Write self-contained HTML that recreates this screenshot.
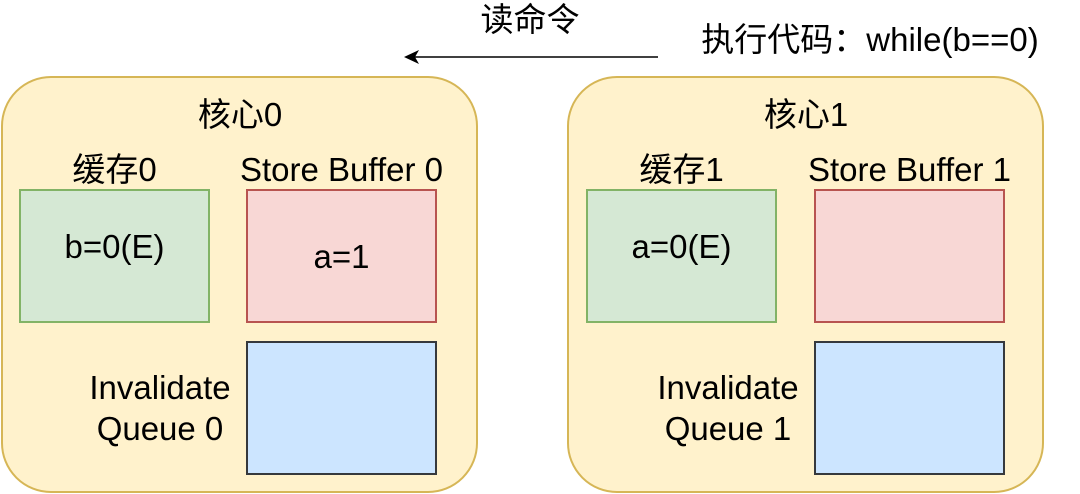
<!DOCTYPE html>
<html><head><meta charset="utf-8"><style>
body{margin:0;background:#fff;width:1080px;height:494px;position:relative;overflow:hidden;font-family:"Liberation Sans","Noto Sans CJK SC",sans-serif;color:#000}
div{position:absolute;box-sizing:border-box}
.core{background:#fff2cc;border:2px solid #d6b656;border-radius:50px;top:76px;width:477px;height:417px}
.g{background:#d5e8d4;border:2px solid #82b366;width:191px;height:134px;top:189px}
.r{background:#f8d7d5;border:2px solid #b85450;width:191px;height:134px;top:189px}
.b{background:#cce5ff;border:2px solid #36393d;width:191px;height:134px;top:341px}
.t{font-size:33px;white-space:nowrap;text-align:center;line-height:36px}
</style></head><body>
<div class="t" style="left:440px;top:2px;width:180px">读命令</div>
<div class="t" style="left:670px;top:22px;width:400px">执行代码：while(b==0)</div>
<svg style="position:absolute;left:0;top:0" width="1080" height="494"><line x1="658" y1="57" x2="412" y2="57" stroke="#000" stroke-width="1.5"/><path d="M404 57 L419 50 L415 57 L419 64 Z" fill="#000"/></svg>

<div class="core" style="left:1px"></div>
<div class="t" style="left:140px;top:97px;width:200px">核心0</div>
<div class="t" style="left:4px;top:152px;width:221px">缓存0</div>
<div class="t" style="left:206px;top:152px;width:271px">Store Buffer 0</div>
<div class="g" style="left:19px"><div class="t" style="left:0;top:38px;width:187px">b=0(E)</div></div>
<div class="r" style="left:246px"><div class="t" style="left:0;top:48px;width:187px">a=1</div></div>
<div class="b" style="left:246px"></div>
<div class="t" style="left:60px;top:367px;width:200px;line-height:41px">Invalidate<br>Queue 0</div>

<div class="core" style="left:567px"></div>
<div class="t" style="left:706px;top:97px;width:200px">核心1</div>
<div class="t" style="left:571px;top:152px;width:221px">缓存1</div>
<div class="t" style="left:774px;top:152px;width:271px">Store Buffer 1</div>
<div class="g" style="left:586px"><div class="t" style="left:0;top:38px;width:187px">a=0(E)</div></div>
<div class="r" style="left:814px"></div>
<div class="b" style="left:814px"></div>
<div class="t" style="left:628px;top:367px;width:200px;line-height:41px">Invalidate<br>Queue 1</div>
</body></html>
